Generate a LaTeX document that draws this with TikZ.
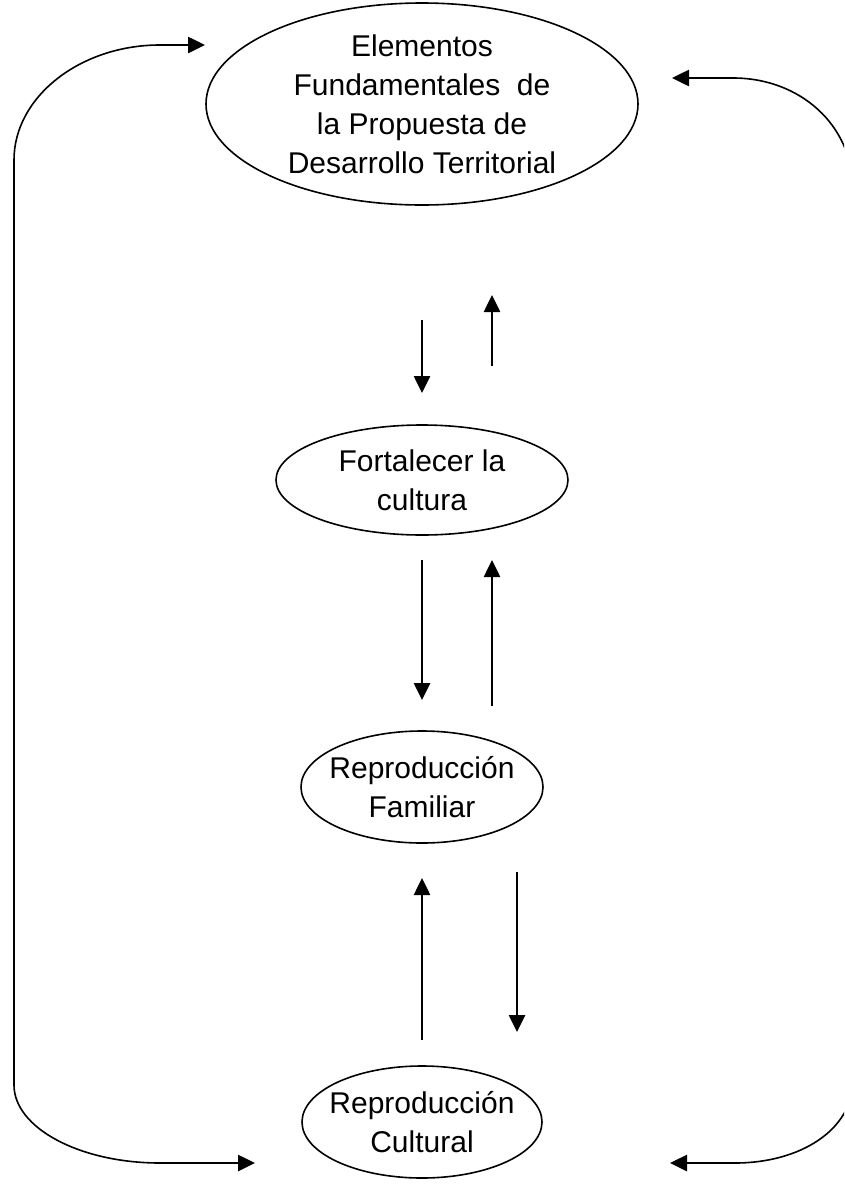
\documentclass[tikz,border=0pt]{standalone}
\usepackage{fontspec}
\setmainfont{Liberation Sans}
\usetikzlibrary{shapes.geometric,arrows.meta}
\tikzset{
	elip/.style={draw,ellipse,line width=1.6pt,inner xsep=-12pt,inner ysep=-4pt,align=center,font=\fontsize{30}{39}\selectfont},
	flecha/.style={line width=2.6pt,-{Triangle[length=17pt,width=16pt]}},
	lazo/.style={line width=1.6pt},
}
\begin{document}
\begin{tikzpicture}[x=1pt,y=-1pt]
	\useasboundingbox (0,0) rectangle (844,1184);
	\clip (0,0) rectangle (844,1184);
	\node[elip,minimum width=432pt,minimum height=202pt] (E) at (422,104) {Elementos\\Fundamentales\ \ de\\la Propuesta de\\Desarrollo Territorial};
	\node[elip,minimum width=292pt,minimum height=110pt] (F) at (422,480) {Fortalecer la\\cultura};
	\node[elip,minimum width=242pt,minimum height=112pt] (RF) at (422,787) {Reproducción\\Familiar};
	\node[elip,minimum width=240pt,minimum height=112pt] (RC) at (422,1122) {Reproducción\\Cultural};
	% flechas centrales
	\coordinate (A) at (422,320);
	\coordinate (A1) at (422,393);
	\coordinate (B) at (492,366);
	\coordinate (B1) at (492,295);
	\coordinate (C) at (422,560);
	\coordinate (C1) at (422,700);
	\coordinate (D) at (492,706);
	\coordinate (D1) at (492,560);
	\coordinate (G) at (422,1040);
	\coordinate (G1) at (422,878);
	\coordinate (H) at (517,872);
	\coordinate (H1) at (517,1032);
	\draw[flecha] (A) -- (A1);
	\draw[flecha] (B) -- (B1);
	\draw[flecha] (C) -- (C1);
	\draw[flecha] (D) -- (D1);
	\draw[flecha] (G) -- (G1);
	\draw[flecha] (H) -- (H1);
	% lazo izquierdo
	\coordinate (P) at (160,1163);
	\coordinate (P1) at (255,1163);
	\coordinate (Q) at (160,45);
	\coordinate (Q1) at (205,45);
	\draw[lazo] (P) .. controls (80,1163) and (14,1128) .. (14,1085) -- (14,160) .. controls (14,97) and (80,45) .. (Q);
	\draw[flecha] (P) -- (P1);
	\draw[flecha] (Q) -- (Q1);
	% lazo derecho
	\coordinate (S) at (733,78);
	\coordinate (S1) at (672,78);
	\coordinate (T) at (735,1163);
	\coordinate (T1) at (670,1163);
	\draw[lazo] (S) .. controls (800,78) and (853,125) .. (853,190) -- (853,1080) .. controls (853,1130) and (800,1163) .. (T);
	\draw[flecha] (S) -- (S1);
	\draw[flecha] (T) -- (T1);
\end{tikzpicture}
\end{document}
